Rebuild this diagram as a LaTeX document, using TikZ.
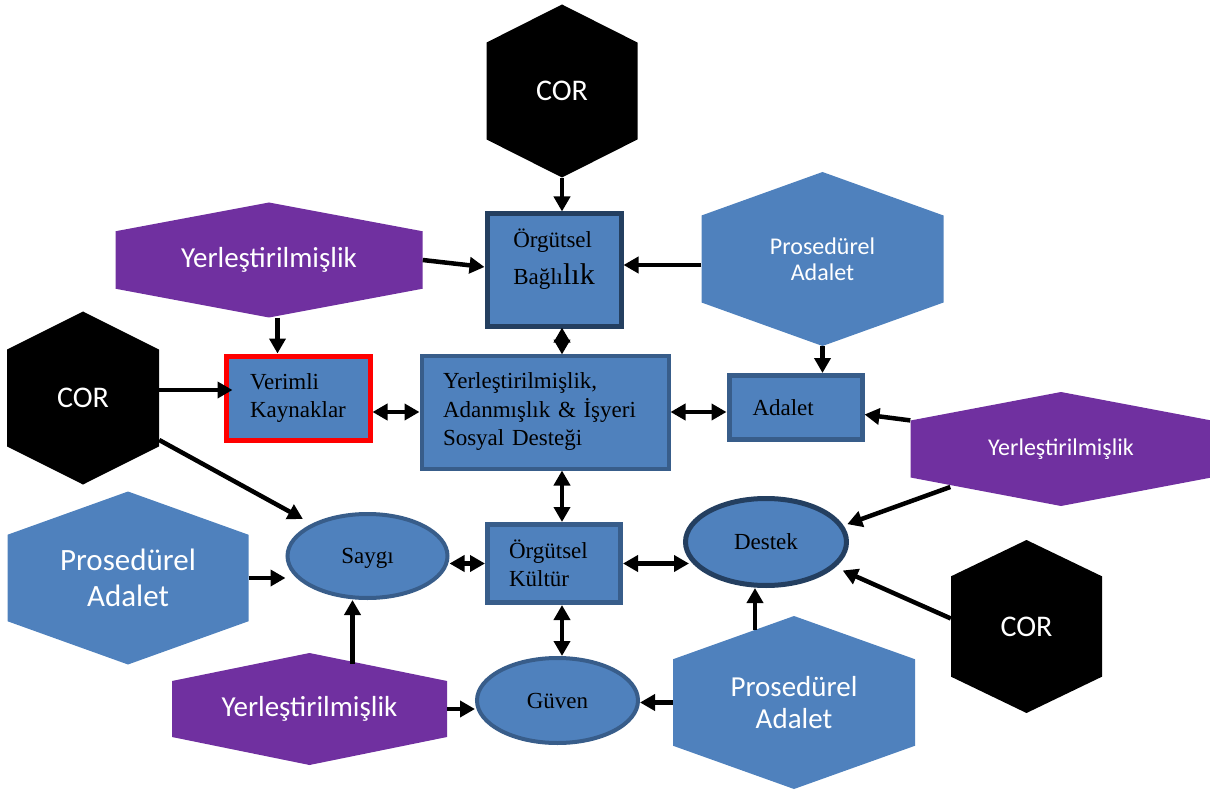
\documentclass[tikz,border=0pt]{standalone}
\usepackage{fontspec}
\setmainfont{Liberation Serif}
\newfontfamily\carlito{Carlito}
\usetikzlibrary{shapes.geometric, arrows.meta, calc}

\definecolor{boxblue}{HTML}{4F81BD}
\definecolor{boxline}{HTML}{385D8A}
\definecolor{darkline}{HTML}{243F60}
\definecolor{hexpurple}{HTML}{7030A0}

\newcommand{\calfont}[2]{\carlito\fontsize{#1}{#2}\selectfont}

\begin{document}
\begin{tikzpicture}[x=1pt, y=-1pt,
        hexcut/.store in=\hexcut, hexcut=0.25,
        hexa/.style={rectangle, inner sep=0pt, text=white, align=center,
            path picture={\fill[#1] (path picture bounding box.north)
                -- ($(path picture bounding box.north east)!\hexcut!(path picture bounding box.south east)$)
                -- ($(path picture bounding box.south east)!\hexcut!(path picture bounding box.north east)$)
                -- (path picture bounding box.south)
                -- ($(path picture bounding box.south west)!\hexcut!(path picture bounding box.north west)$)
                -- ($(path picture bounding box.north west)!\hexcut!(path picture bounding box.south west)$)
                -- cycle;}},
        box/.style={rectangle, draw=boxline, line width=5pt, fill=boxblue, inner sep=0pt, align=left,
            font=\fontsize{23}{28.5}\selectfont},
        oval/.style={ellipse, draw=boxline, line width=4pt, fill=boxblue, inner sep=0pt,
            font=\fontsize{23}{28.5}\selectfont},
        arrow/.style={->, >={Triangle[length=15pt, width=16pt]}, line width=4.5pt},
        dbl/.style={arrow, <->}]

    \useasboundingbox (0,0) rectangle (1210,794);

    % top row
    \node (corT) [hexa=black, hexcut=0.22, minimum width=151pt, minimum height=173pt, font=\calfont{30}{34}] at (562,91) {COR};
    \node (ob) [box, draw=darkline, minimum width=134pt, minimum height=112pt] at (554,270) {Örgütsel\\[8pt]Bağlı{\fontsize{30}{30}\selectfont lık}\\[-2pt]\mbox{}};
    \node (prT) [hexa=boxblue, minimum width=242pt, minimum height=174pt, font=\calfont{24}{26}] at (822.5,259) {Prosedürel\\Adalet};
    \node (ytl) [hexa=hexpurple, minimum width=307pt, minimum height=115pt, font=\calfont{29}{33}] at (269,260) {Yerleştirilmişlik};

    % middle row
    \node (corL) [hexa=black, hexcut=0.22, minimum width=152pt, minimum height=173pt, font=\calfont{30}{34}] at (83,398) {COR};
    \node (vk) [box, draw=red, minimum width=144pt, minimum height=84pt] at (298,398) {Verimli\\Kaynaklar};
    \node (cen) [box, line width=4pt, minimum width=247pt, minimum height=113pt, text width=204pt] at (545,412) {Yerleştirilmişlik,\\Adanmışlık \& İşyeri\\Sosyal Desteği};
    \node (ad) [box, minimum width=133pt, minimum height=64pt, text width=86pt] at (795.5,407.5) {Adalet};
    \node (yr) [hexa=hexpurple, minimum width=301pt, minimum height=114pt, font=\calfont{24}{27}] at (1061,449) {Yerleştirilmişlik};

    % lower rows
    \node (sa) [oval, minimum width=160pt, minimum height=84pt, text depth=1pt] at (367.5,556) {Saygı};
    \node (ok) [box, minimum width=133pt, minimum height=78pt, text width=90pt] at (554,563.5) {Örgütsel\\Kültür};
    \node (de) [oval, draw=darkline, line width=5pt, minimum width=161pt, minimum height=87pt] at (766,542) {Destek};
    \node (pl) [hexa=boxblue, minimum width=241pt, minimum height=173pt, font=\calfont{31}{36}] at (128,578) {Prosedürel\\Adalet};
    \node (yb) [hexa=hexpurple, minimum width=275pt, minimum height=112pt, font=\calfont{29}{33}] at (309.5,709) {Yerleştirilmişlik};
    \node (gu) [oval, minimum width=161pt, minimum height=85pt] at (557.5,700.5) {Güven};
    \node (prB) [hexa=boxblue, minimum width=242pt, minimum height=173pt, font=\calfont{29}{31.5}] at (794,702.5) {Prosedürel\\Adalet};
    \node (corB) [hexa=black, hexcut=0.21, minimum width=151pt, minimum height=173pt, font=\calfont{30}{34}] at (1026.5,626.5) {COR};

    % connectors
    \draw [arrow] (corT.south) -- (corT.south |- ob.north);
    \draw [arrow] (ytl.east) -- ([yshift=3pt]ob.west);
    \draw [arrow] ([yshift=-6pt]prT.west) -- ([yshift=-6pt]prT.west -| ob.east);
    \draw [dbl, shorten <=-1pt, shorten >=-1pt] (corT.south |- ob.south) -- (corT.south |- cen.north);
    \draw [arrow] ([xshift=8.5pt]ytl.south) -- ([xshift=8.5pt]ytl.south |- vk.north);
    \draw [arrow, shorten >=-9pt] ([yshift=8pt]corL.east) -- ([yshift=8pt]corL.east -| vk.west);
    \draw [dbl] (vk.east |- cen.west) -- (cen.west);
    \draw [dbl] (cen.east) -- (cen.east -| ad.west);
    \draw [arrow] (prT.south) -- (prT.south |- ad.north);
    \draw [arrow] ($(yr.north west)!0.25!(yr.south west)$) -- ([yshift=-7pt]ad.east);
    \draw [arrow, shorten >=10pt] ([yshift=-42pt]corL.east) -- (sa.150);
    \draw [dbl] (corT.south |- cen.south) -- (corT.south |- ok.north);
    \draw [arrow, shorten >=4pt] ([shift={(40,38)}]yr.west) -- (de.12);
    \draw [arrow] (pl.east) -- (pl.east -| sa.west);
    \draw [dbl] (ok.west) -- (ok.west -| sa.east);
    \draw [dbl, shorten >=-6pt] (ok.east) -- (ok.east -| de.west);
    \draw [dbl] (corT.south |- ok.south) -- (corT.south |- gu.north);
    \draw [arrow] ([shift={(43,11)}]yb.north) -- ([xshift=43pt]yb.north |- sa.south);
    \draw [arrow] (yb.east) -- (yb.east -| gu.west);
    \draw [arrow] (prB.west) -- (prB.west -| gu.east);
    \draw [arrow] ([shift={(-39,14)}]prB.north) -- ([xshift=-39pt]prB.north |- de.south);
    \draw [arrow, shorten >=8pt] ([yshift=8pt]corB.west) -- (de.-20);
\end{tikzpicture}
\end{document}
